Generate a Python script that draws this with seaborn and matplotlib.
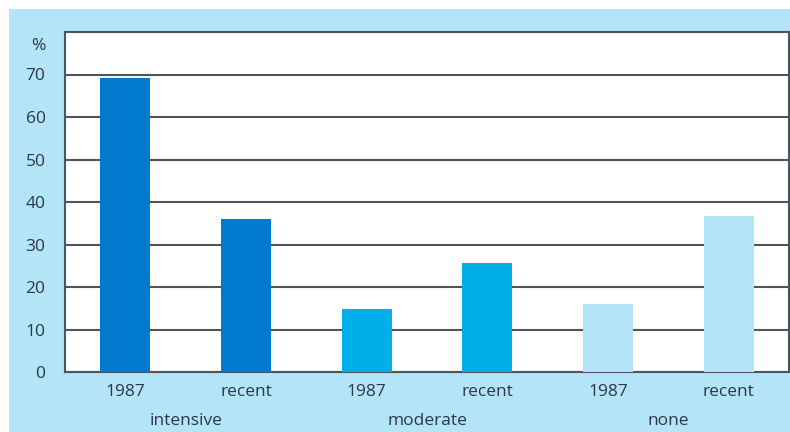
import numpy as np
import pandas as pd
import seaborn as sns
import matplotlib.pyplot as plt
from matplotlib.patches import Rectangle

# data
groups = ['intensive', 'moderate', 'none']
periods = ['1987', 'recent']
values = [69.2, 36.0, 14.8, 25.6, 16.0, 36.8]
bar_colors = ['#0079cf', '#0079cf', '#00aeea', '#00aeea', '#b3e3f6', '#b3e3f6']

keys = [g + ' ' + p for g in groups for p in periods]
df = pd.DataFrame({'key': keys, 'value': values})

sns.set_style('white')
plt.rcParams['font.family'] = ['Open Sans', 'DejaVu Sans']
text_col = '#2b3846'
line_col = '#4d555c'
fs = 12.5

fig = plt.figure(figsize=(7.9, 4.32), dpi=100)
fig.patch.set_facecolor('white')
fig.patches.append(Rectangle((9 / 790, 0), 1, 1 - 9 / 432, transform=fig.transFigure,
                             facecolor='#b3e4f7', edgecolor='none', zorder=-5))

ax = fig.add_axes([65 / 790, 1 - 372 / 432, (789 - 65) / 790, (372 - 32) / 432])
ax.set_zorder(2)
ax.set_facecolor('white')

sns.barplot(data=df, x='key', y='value', hue='key', palette=bar_colors,
            width=0.415, saturation=1, legend=False, linewidth=0, ax=ax, zorder=3)

ax.set_ylim(0, 80)
ax.set_xlim(-0.5, len(keys) - 0.5)
ax.set_yticks(np.arange(0, 80, 10))
ax.yaxis.grid(True, color=line_col, linewidth=1.5, zorder=1)
ax.set_axisbelow(True)

ax.set_xticks(range(len(keys)))
ax.set_xticklabels(periods * len(groups))
ax.set_xticks(np.arange(0.5, len(keys) - 1, 1), minor=True)
ax.tick_params(axis='x', which='major', length=0, pad=9, labelsize=fs, labelcolor=text_col)
ax.tick_params(axis='x', which='minor', length=5, width=1.5, color=line_col, direction='out')
ax.tick_params(axis='y', length=6, width=1.5, color=line_col, direction='out',
               labelsize=fs, labelcolor=text_col, pad=8)
ax.set_xlabel('')
ax.set_ylabel('')

for s in ax.spines.values():
    s.set_visible(True)
    s.set_color(line_col)
    s.set_linewidth(1.5)

# group labels under the period labels
for i, g in enumerate(groups):
    ax.text(2 * i + 0.5, -0.143, g, transform=ax.get_xaxis_transform(),
            ha='center', va='center', fontsize=fs, color=text_col)

fig.text(38 / 790, 1 - 46 / 432, '%', ha='center', va='center', fontsize=fs, color=text_col)

fig.savefig('out.png', dpi=100, facecolor=fig.get_facecolor())
